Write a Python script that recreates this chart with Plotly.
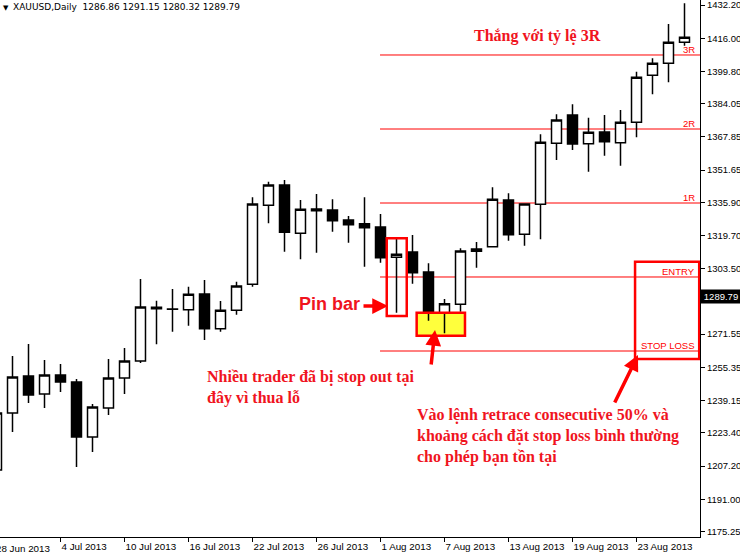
import plotly.graph_objects as go

# ---- XAUUSD daily bars ----
dates = [
    "2013-06-28",
    "2013-07-01", "2013-07-02", "2013-07-03", "2013-07-04", "2013-07-05",
    "2013-07-08", "2013-07-09", "2013-07-10", "2013-07-11", "2013-07-12",
    "2013-07-15", "2013-07-16", "2013-07-17", "2013-07-18", "2013-07-19",
    "2013-07-22", "2013-07-23", "2013-07-24", "2013-07-25", "2013-07-26",
    "2013-07-29", "2013-07-30", "2013-07-31", "2013-08-01", "2013-08-02",
    "2013-08-05", "2013-08-06", "2013-08-07", "2013-08-08", "2013-08-09",
    "2013-08-12", "2013-08-13", "2013-08-14", "2013-08-15", "2013-08-16",
    "2013-08-19", "2013-08-20", "2013-08-21", "2013-08-22", "2013-08-23",
    "2013-08-26", "2013-08-27", "2013-08-28",
]
opens = [
    1205.25,
    1233.07, 1251.13, 1242.34, 1251.62, 1248.20,
    1221.36, 1235.51, 1250.15, 1258.45, 1284.66,
    1283.68, 1283.49, 1291.15, 1274.21, 1283.19,
    1295.88, 1334.44, 1344.35, 1320.78, 1332.64,
    1332.15, 1327.27, 1325.46, 1323.85, 1309.06,
    1311.65, 1301.89, 1282.02, 1286.12, 1311.99,
    1314.24, 1337.03, 1320.29, 1334.93, 1364.70,
    1378.51, 1364.51, 1370.22, 1364.99, 1374.95,
    1397.89, 1403.75, 1414.00,
]
highs = [
    1236.98,
    1260.89, 1266.75, 1258.94, 1256.99, 1249.67,
    1237.46, 1259.43, 1264.80, 1298.47, 1287.88,
    1293.59, 1294.71, 1297.98, 1287.73, 1297.15,
    1338.35, 1345.96, 1346.79, 1337.03, 1339.96,
    1337.37, 1329.22, 1338.35, 1330.20, 1317.99,
    1319.95, 1306.13, 1288.71, 1313.45, 1316.53,
    1343.23, 1340.30, 1335.42, 1369.09, 1378.85,
    1383.74, 1377.20, 1378.51, 1380.95, 1399.65,
    1406.19, 1422.93, 1433.03,
]
lows = [
    1197.93,
    1223.80, 1237.95, 1235.51, 1243.32, 1206.72,
    1214.04, 1232.10, 1242.34, 1257.47, 1266.60,
    1272.75, 1275.68, 1268.70, 1272.75, 1281.05,
    1294.71, 1325.66, 1311.79, 1308.09, 1311.31,
    1321.56, 1316.19, 1304.47, 1306.43, 1282.02,
    1296.18, 1278.12, 1271.97, 1282.51, 1303.99,
    1313.94, 1317.16, 1314.72, 1317.85, 1356.55,
    1361.43, 1350.84, 1358.65, 1353.77, 1367.63,
    1388.62, 1394.47, 1412.34,
]
closes = [
    1233.07,
    1250.64, 1241.86, 1251.62, 1248.20, 1221.36,
    1236.00, 1250.15, 1258.45, 1284.81, 1283.98,
    1283.80, 1291.00, 1274.21, 1283.19, 1295.05,
    1335.08, 1344.35, 1321.26, 1332.49, 1331.81,
    1326.93, 1324.97, 1323.51, 1308.87, 1310.53,
    1301.55, 1282.02, 1286.42, 1312.14, 1313.11,
    1337.37, 1320.09, 1335.08, 1365.19, 1376.07,
    1364.36, 1370.07, 1365.48, 1374.95, 1396.91,
    1403.75, 1414.00, 1416.44,
]

# quote shown in the chart header (open, high, low, close)
last_quote = [1286.86, 1291.15, 1280.32, 1289.79]

# price axis ticks (1287.75 sits under the price tag, so its text is left blank)
price_ticks = [1432.20, 1416.00, 1399.80, 1384.05, 1367.85, 1351.65, 1335.90,
               1319.70, 1303.50, 1287.75, 1271.55, 1255.35, 1239.15, 1223.40,
               1207.20, 1191.00, 1175.25]
price_tick_text = ["" if v == 1287.75 else f"{v:.2f}" for v in price_ticks]

# time axis ticks
date_ticks = ["2013-06-28", "2013-07-04", "2013-07-10", "2013-07-16",
              "2013-07-22", "2013-07-26", "2013-08-01", "2013-08-07",
              "2013-08-13", "2013-08-19", "2013-08-23"]
date_tick_labels = ["28 Jun 2013", "4 Jul 2013", "10 Jul 2013", "16 Jul 2013",
                    "22 Jul 2013", "26 Jul 2013", "1 Aug 2013", "7 Aug 2013",
                    "13 Aug 2013", "19 Aug 2013", "23 Aug 2013"]

# trade plan levels
level_names = ["3R", "2R", "1R", "ENTRY", "STOP LOSS"]
level_prices = [1407.80, 1371.68, 1335.56, 1299.45, 1263.33]

RED = "#ff0000"
TXT_RED = "#f0141e"

fig = go.Figure()
fig.add_trace(go.Candlestick(
    x=dates, open=opens, high=highs, low=lows, close=closes,
    increasing=dict(line=dict(color="black", width=1.5), fillcolor="white"),
    decreasing=dict(line=dict(color="black", width=1.5), fillcolor="black"),
    whiskerwidth=0, showlegend=False, hoverinfo="skip",
))

idx = {d: i for i, d in enumerate(dates)}
x_lo, x_hi = 0.21875, 43.96875
y_lo, y_hi = 1172.55, 1434.64

shapes = []
# horizontal level lines starting at the 1 Aug bar
for p in level_prices:
    shapes.append(dict(type="line", xref="x", yref="y",
                       x0=idx["2013-08-01"] - 0.03, x1=x_hi, y0=p, y1=p,
                       line=dict(color=RED, width=1), layer="below"))

# highlighted stop-out zone under the lows of 6-7 Aug
shapes.append(dict(type="rect", xref="x", yref="y", x0=26.26, x1=29.28,
                   y0=1270.80, y1=1282.02, fillcolor="#ffff3c",
                   line=dict(width=0), layer="below"))
shapes.append(dict(type="rect", xref="x", yref="y", x0=26.26, x1=29.28,
                   y0=1270.80, y1=1282.02, line=dict(color=RED, width=2.5)))
# pin bar frame
shapes.append(dict(type="rect", xref="x", yref="y", x0=24.39, x1=25.64,
                   y0=1280.41, y1=1318.33, line=dict(color=RED, width=2.5)))
# entry / stop-loss frame
shapes.append(dict(type="rect", xref="x", yref="y", x0=39.91, x1=x_hi - 0.05,
                   y0=1259.43, y1=1306.92, line=dict(color=RED, width=2.5)))

ann = []
# level labels
for name, p in zip(level_names, level_prices):
    ann.append(dict(xref="paper", yref="y", x=0.9957, y=p, text=name,
                    xanchor="right", yanchor="bottom", showarrow=False,
                    font=dict(family="Liberation Sans", size=9.5, color=RED),
                    yshift=-2))

# header
ann.append(dict(xref="paper", yref="paper", x=0.002, y=0.997, text="▼",
                xanchor="left", yanchor="top", showarrow=False,
                font=dict(family="DejaVu Sans", size=7, color="black")))
ann.append(dict(xref="paper", yref="paper", x=0.016, y=1.0,
                text="XAUUSD,Daily  " + " ".join(f"{v:.2f}" for v in last_quote),
                xanchor="left", yanchor="top", showarrow=False,
                font=dict(family="DejaVu Sans", size=9, color="black")))

# current price tag
ann.append(dict(xref="paper", yref="y", x=1.0, y=last_quote[3],
                text=f"{last_quote[3]:.2f}", xanchor="left", yanchor="middle",
                showarrow=False, bgcolor="black", width=38, borderpad=1,
                font=dict(family="Liberation Sans", size=9.5, color="white")))

# first date label (its tick lies just left of the visible range)
ann.append(dict(xref="paper", yref="paper", x=-6 / 700, y=0, yshift=-4,
                text=date_tick_labels[0], xanchor="left", yanchor="top",
                showarrow=False,
                font=dict(family="Liberation Sans", size=9.8, color="black")))

serif = dict(family="Liberation Serif", size=16, color=TXT_RED)
ann.append(dict(xref="paper", yref="paper", x=472 / 700, y=1 - 36 / 537,
                text="<b>Thắng với tỷ lệ 3R</b>", xanchor="left",
                yanchor="middle", showarrow=False, font=serif))
ann.append(dict(xref="paper", yref="paper", x=205 / 700, y=1 - 366 / 537,
                text="<b>Nhiều trader đã bị stop out tại<br>đây vì thua lỗ</b>",
                xanchor="left", yanchor="top", align="left",
                showarrow=False, font=serif))
ann.append(dict(xref="paper", yref="paper", x=415 / 700, y=1 - 404 / 537,
                text="<b>Vào lệnh retrace consecutive 50% và<br>"
                     "khoảng cách đặt stop loss bình thường<br>"
                     "cho phép bạn tồn tại</b>",
                xanchor="left", yanchor="top", align="left",
                showarrow=False, font=serif))
ann.append(dict(xref="paper", yref="paper", x=297 / 700, y=1 - 304 / 537,
                text="<b>Pin bar</b>", xanchor="left", yanchor="middle",
                showarrow=False,
                font=dict(family="Liberation Sans", size=18, color=TXT_RED)))

# arrows
arrow = dict(xref="paper", yref="paper", text="", showarrow=True,
             arrowhead=2, arrowsize=0.9, arrowwidth=3.5, arrowcolor=RED)
ann.append(dict(arrow, x=388 / 700, y=1 - 306 / 537, ax=-26, ay=0))
ann.append(dict(arrow, x=435 / 700, y=1 - 330 / 537, ax=-4, ay=36))
ann.append(dict(arrow, x=638 / 700, y=1 - 355 / 537, ax=-24, ay=49))

fig.update_layout(
    width=740, height=555,
    margin=dict(l=0, r=40, t=0, b=18, autoexpand=False),
    paper_bgcolor="white", plot_bgcolor="white",
    boxgap=0.2, boxgroupgap=0.22,
    shapes=shapes, annotations=ann,
    showlegend=False,
    xaxis=dict(type="category", range=[x_lo, x_hi], rangeslider=dict(visible=False),
               tickmode="array", tickvals=date_ticks, ticktext=date_tick_labels,
               ticks="outside", ticklen=4, tickcolor="black", tickwidth=1,
               ticklabelposition="outside right", tickangle=0, automargin=False,
               ticklabeloverflow="allow",
               showline=True, linecolor="black", linewidth=1, mirror=False,
               showgrid=False, zeroline=False,
               tickfont=dict(family="Liberation Sans", size=9.8, color="black")),
    yaxis=dict(side="right", range=[y_lo, y_hi], tickmode="array",
               tickvals=price_ticks, ticktext=price_tick_text, automargin=False,
               ticklabeloverflow="allow",
               ticks="outside", ticklen=4, tickcolor="black", tickwidth=1,
               showline=True, linecolor="black", linewidth=1,
               showgrid=False, zeroline=False,
               tickfont=dict(family="Liberation Sans", size=9.5, color="black")),
)

fig.write_html("out.html")
